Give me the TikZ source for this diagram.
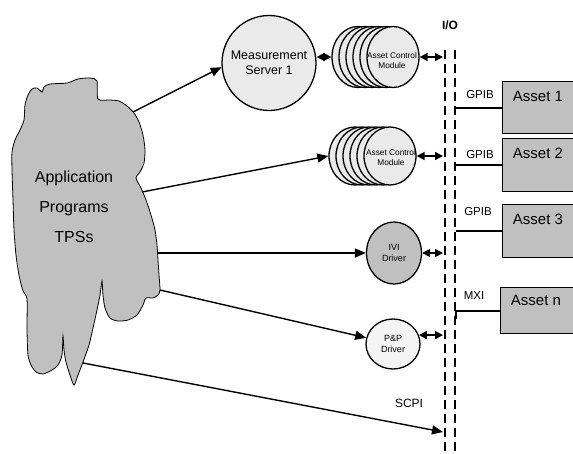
\documentclass[tikz,border=0pt]{standalone}
\usepackage{fontspec}
\setmainfont{Liberation Sans}
\usetikzlibrary{arrows.meta,shapes.geometric}
\definecolor{cloudgray}{HTML}{C0C0C0}
\definecolor{lightfill}{HTML}{EAEAEA}
\definecolor{ppfill}{HTML}{F4F4F4}
\definecolor{assetgray}{HTML}{C0C0C0}
\tikzset{
  ell/.style={ellipse, draw, line width=1.3pt, inner sep=0pt},
  arr/.style={line width=1.4pt, -{Triangle[length=11pt,width=9pt]}},
  dbl/.style={line width=1.6pt, {Triangle[length=8pt,width=8pt]}-{Triangle[length=8pt,width=8pt]}},
  bus/.style={line width=2.8pt, dash pattern=on 9pt off 5pt},
  assetbox/.style={draw, line width=1pt, fill=assetgray, anchor=north west, minimum width=90pt, inner sep=0pt},
  assetlabel/.style={anchor=north, inner sep=0pt, font=\fontsize{15}{17}\selectfont},
  buslabel/.style={font=\fontsize{11.5}{13}\selectfont},
  wire/.style={line width=2pt}
}
\begin{document}
\begin{tikzpicture}[x=1pt,y=-1pt]
\useasboundingbox (0,0) rectangle (573,453);
\clip (0,0) rectangle (573,453);
\fill[white] (0,0) rectangle (573,453);

% cloud
\draw[fill=cloudgray, line width=0.8pt] plot[smooth cycle, tension=0.45] coordinates {
 (67,83) (78,79) (90,78) (97,81) (98,99) (110,100) (119,101) (127,106) (134,113)
 (139,122) (143,135) (145,150) (144,163) (140,172) (136,178) (141,188) (146,200)
 (151,215) (155,230) (157,245) (158,260) (159,275) (160,290) (158,295) (153,298)
 (146,298) (143,305) (137,315) (128,320) (118,321) (110,318) (105,308) (103,295)
 (102,281) (100,295) (97,310) (93,328) (89,345) (83,362) (78,375) (74,385)
 (70,375) (66,362) (64,350) (63,336) (62,355) (58,365) (52,370) (43,374) (36,372)
 (31,365) (28,355) (27,330) (27,299) (23,291) (19,275) (16,255) (14,230) (13,200)
 (12,170) (12,152) (15,140) (20,130) (24,120) (25,105) (28,95) (32,89) (37,88)
 (42,92) (44,87) (50,84)};
\node[align=center, font=\fontsize{16}{30}\selectfont] (apps) at (74,207) {Application\\Programs\\TPSs};

\coordinate (c1) at (133,112);
\coordinate (c2) at (142,192);
\coordinate (c3) at (158,253);
\coordinate (c4) at (160,290);
\coordinate (c5) at (83,363);

% I/O bus
\coordinate (ioLtop) at (445,50);
\coordinate (ioLbot) at (445,460);
\coordinate (ioRtop) at (455,50);
\coordinate (ioRbot) at (455,460);
\coordinate (ioL) at (443,0);
\coordinate (ioR) at (456,0);
\draw[bus] (ioLtop) -- (ioLbot);
\draw[bus] (ioRtop) -- (ioRbot);
\node[font=\bfseries\fontsize{12}{14}\selectfont] (io) at (450,25) {I/O};

% measurement server
\node[ell, fill=lightfill, minimum width=94pt, minimum height=95pt,
  label={[align=center, font=\fontsize{12.5}{15}\selectfont]center:Measurement\\Server 1}] (srv) at (269,63) {};

% stack 1
\foreach \k in {0,...,5} {
  \node[ell, fill=lightfill, minimum width=52pt, minimum height=61pt] (s1-\k) at ({358+7*\k},57) {};
}
\node[align=center, font=\fontsize{8.3}{10}\selectfont] (s1txt) at (392,61) {Asset Control\\Module};

% stack 2
\foreach \k in {0,...,5} {
  \node[ell, fill=lightfill, minimum width=52pt, minimum height=58pt] (s2-\k) at ({355+7*\k},156) {};
}
\node[align=center, font=\fontsize{8.3}{10}\selectfont] (s2txt) at (391,158) {Asset Control\\Module};

% IVI driver
\node[ell, fill=cloudgray, minimum width=55pt, minimum height=62pt,
  label={[align=center, font=\fontsize{9}{11}\selectfont]center:IVI\\Driver}] (ivi) at (394,253) {};

% P&P driver
\node[ell, fill=ppfill, minimum width=54pt, minimum height=50pt,
  label={[align=center, font=\fontsize{9}{11}\selectfont]center:P\&P\\Driver}] (pp) at (393,344) {};

% assets
\node[assetbox, minimum height=52pt] (a1) at (502,81) {};
\node[assetbox, minimum height=53pt] (a2) at (502,138) {};
\node[assetbox, minimum height=53pt] (a3) at (502,204) {};
\node[assetbox, minimum height=46pt] (an) at (500,287) {};
\node[assetlabel] (a1t) at (538,91) {Asset 1};
\node[assetlabel] (a2t) at (538,148) {Asset 2};
\node[assetlabel] (a3t) at (538,214) {Asset 3};
\node[assetlabel] (ant) at (536,295) {Asset n};

% bus wires
\draw[wire] (a1.west) -- (a1.west -| ioR);
\draw[wire] (a2.west) -- (a2.west -| ioR);
\draw[wire] (a3.west) -- (a3.west -| ioR);
\draw[wire] (an.west) -- (an.west -| ioR) -- ++(0,8);
\node[buslabel] (g1) at (480,95) {GPIB};
\node[buslabel] (g2) at (480,155) {GPIB};
\node[buslabel] (g3) at (478,212) {GPIB};
\node[buslabel] (mxi) at (474,296) {MXI};
\node[font=\fontsize{12}{14}\selectfont] (scpil) at (409,403) {SCPI};

% arrows from applications
\draw[arr] (c1) -- (srv.185);
\draw[arr] (c2) -- (s2-0.west);
\draw[arr] (c3) -- (ivi.west);
\draw[arr] (c4) -- (pp.167);
\coordinate (scpi) at (443,432);
\draw[arr] (c5) -- (scpi);

% double arrows
\draw[dbl] (srv.east |- s1-0.west) -- (s1-0.west);
\draw[dbl] (s1-5.east) -- (s1-5.east -| ioL);
\draw[dbl] (s2-5.east) -- (s2-5.east -| ioL);
\draw[dbl] (ivi.east) -- (ivi.east -| ioL);
\draw[dbl] (pp.19) -- (pp.19 -| ioL);
\end{tikzpicture}
\end{document}
